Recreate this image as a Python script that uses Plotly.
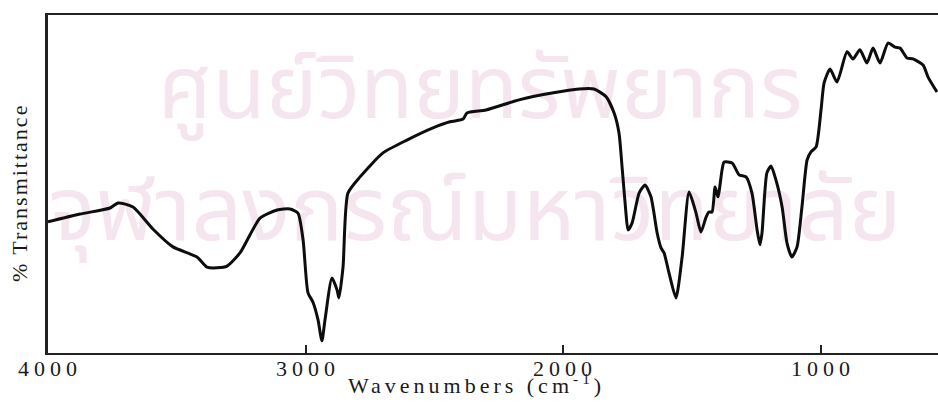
import plotly.graph_objects as go

# Wavenumber (cm-1) and % transmittance
wavenumber = [4000, 3876, 3759, 3728, 3670, 3593, 3515, 3422, 3383, 3344, 3305, 3255, 3177,
              3111, 3061, 3030, 3010, 2991, 2972, 2952, 2937, 2925, 2898, 2878, 2871, 2855,
              2836, 2789, 2700, 2607, 2506, 2440, 2389, 2374, 2300, 2172, 2044, 1939, 1881,
              1834, 1803, 1784, 1772, 1757, 1749, 1733, 1706, 1683, 1660, 1636, 1621, 1609,
              1590, 1563, 1539, 1512, 1485, 1466, 1446, 1435, 1423, 1411, 1400, 1384, 1376,
              1345, 1318, 1291, 1268, 1248, 1237, 1229, 1210, 1194, 1175, 1151, 1132, 1113,
              1093, 1074, 1054, 1039, 1019, 1000, 988, 965, 938, 899, 876, 849, 822, 798,
              771, 740, 713, 693, 666, 643, 604, 585, 550]
transmittance = [38.8, 41.1, 42.9, 44.4, 43.2, 36.7, 31.4, 28.4, 25.4, 25.2, 25.7, 29.6, 39.9,
                 42.3, 42.6, 41.4, 33.4, 17.8, 15.1, 9.8, 3.6, 9.8, 22.2, 18.6, 16.3, 25.4,
                 47.3, 52.1, 59.2, 63.0, 66.6, 68.4, 69.2, 71.0, 71.9, 74.9, 76.9, 78.1, 78.1,
                 75.8, 71.0, 65.1, 55.0, 41.4, 36.4, 38.5, 47.3, 49.7, 46.2, 35.5, 31.1, 29.6,
                 23.7, 16.3, 28.4, 47.6, 41.4, 35.8, 40.2, 41.7, 41.7, 49.1, 46.2, 54.2, 56.5,
                 56.2, 52.7, 52.1, 47.3, 36.4, 32.0, 35.5, 53.3, 55.3, 51.2, 43.2, 32.5, 28.4,
                 31.4, 43.2, 57.1, 59.5, 61.0, 71.9, 79.9, 84.0, 80.2, 89.1, 87.0, 89.7, 85.8,
                 90.2, 85.8, 91.7, 90.5, 90.2, 87.3, 87.0, 85.2, 81.7, 77.2]

tick_values = [4000, 3000, 2000, 1000]
tick_labels = ["4000", "3000", "2000", "1000"]

watermark_lines = ["ศูนย์วิทยทรัพยากร", "จุฬาลงกรณ์มหาวิทยาลัย"]
watermark_x = [2323, 2343]
watermark_y = [76, 40]
watermark_sizes = [87, 89]

x_title = "Wavenumbers (cm<sup>-1</sup>)"
y_title = "% Transmittance"

SERIF = "Liberation Serif, Times New Roman, serif"
INK = "#1a1a1a"

fig = go.Figure()

fig.add_trace(go.Scatter(
    x=watermark_x, y=watermark_y, text=watermark_lines, mode="text",
    textfont=dict(family="Noto Sans Thai, Loma, Garuda, Noto Sans, DejaVu Sans, sans-serif",
                  size=watermark_sizes, color="#f5e5ef"),
    hoverinfo="skip", showlegend=False, cliponaxis=False,
))

fig.add_trace(go.Scatter(
    x=wavenumber, y=transmittance, mode="lines",
    line=dict(color="#0d0d0d", width=3, shape="spline", smoothing=0.6),
    hoverinfo="skip", showlegend=False,
))

tick_annotations = [
    dict(text='<span style="letter-spacing:5px">%s</span>' % lab,
         x=val, xref="x", y=0, yref="paper", xanchor="center", yanchor="top",
         xshift=2, yshift=-1, showarrow=False,
         font=dict(family=SERIF, size=22, color=INK))
    for val, lab in zip(tick_values, tick_labels)
]

fig.update_layout(
    width=938, height=402,
    margin=dict(l=48, r=0, t=15, b=49),
    paper_bgcolor="white", plot_bgcolor="white",
    xaxis=dict(
        range=[4000, 546], showgrid=False, zeroline=False,
        showline=True, linecolor="#222222", linewidth=2, mirror=True,
        ticks="inside", ticklen=8, tickwidth=2, tickcolor="#222222",
        tickvals=tick_values, showticklabels=False,
    ),
    yaxis=dict(
        range=[0, 100], showgrid=False, zeroline=False,
        showline=True, linecolor="#222222", linewidth=2.5, mirror=False,
        showticklabels=False, ticks="",
    ),
    annotations=tick_annotations + [
        dict(text='<span style="letter-spacing:4px">%s</span>' % x_title,
             xref="paper", yref="paper", x=0.481, y=-0.092, xanchor="center", yanchor="middle",
             showarrow=False, font=dict(family=SERIF, size=22, color=INK)),
        dict(text='<span style="letter-spacing:2px">%s</span>' % y_title,
             xref="paper", yref="paper", x=-0.0326, y=0.476, xanchor="center", yanchor="middle",
             textangle=-90, showarrow=False, font=dict(family=SERIF, size=22, color=INK)),
    ],
)

fig.write_html("out.html")
